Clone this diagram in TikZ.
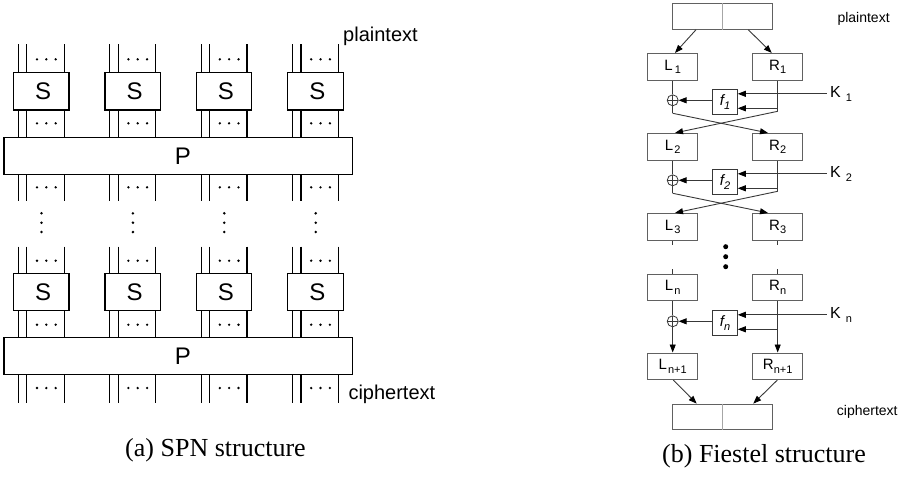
\documentclass[tikz,border=0pt]{standalone}
\usepackage{fontspec}
\setmainfont{Liberation Sans}
\newfontfamily\capfont{Liberation Serif}
\usetikzlibrary{arrows.meta,calc}

\definecolor{fline}{gray}{0.22}
\definecolor{fbord}{gray}{0.38}
\definecolor{fdiv}{gray}{0.65}

% lowered small index used in the Feistel labels
\newcommand\lowidx[1]{\raisebox{-0.45ex}{\fontsize{11}{11}\selectfont #1}}

\tikzset{
  wire/.style={line width=1.1pt, black},
  sbox/.style={draw, line width=1.2pt, fill=white, minimum width=55.4pt,
    minimum height=37.3pt, inner sep=0pt, font=\fontsize{24}{24}\selectfont},
  pbox/.style={draw, line width=1.2pt, fill=white, minimum width=348.3pt,
    minimum height=37pt, inner sep=0pt},
  spnlabel/.style={inner sep=0pt, font=\fontsize{20}{20}\selectfont},
  caption/.style={inner sep=0pt, font=\capfont\fontsize{26}{26}\selectfont},
  halfbox/.style={draw=fbord, line width=0.9pt, minimum width=50pt,
    minimum height=26.7pt, inner sep=0pt, font=\fontsize{15}{15}\selectfont},
  blockbox/.style={draw=fbord, line width=0.9pt, minimum width=100pt,
    minimum height=26pt, inner sep=0pt},
  fbox/.style={draw=fline, line width=0.9pt, minimum width=24.6pt,
    minimum height=25pt, inner sep=0pt, font=\itshape\fontsize{15}{15}\selectfont},
  xorc/.style={draw=fline, line width=0.8pt, circle, minimum size=11pt, inner sep=0pt,
    path picture={\draw[fline, line width=0.7pt]
      (path picture bounding box.north) -- (path picture bounding box.south)
      (path picture bounding box.west) -- (path picture bounding box.east);}},
  fl/.style={draw=fline, line width=0.9pt},
  farr/.style={fl, -{Triangle[length=8pt,width=6pt,color=black]}},
  fsmall/.style={inner sep=0pt, font=\fontsize{14}{14}\selectfont},
  klabel/.style={inner sep=0pt, anchor=west, font=\fontsize{16}{16}\selectfont},
}

\begin{document}
\begin{tikzpicture}[x=1pt, y=-1pt]
\useasboundingbox (0,0) rectangle (902,477);

% ---------------- SPN network ----------------
\foreach \k in {0,1,2,3}{
  \pgfmathsetmacro\bx{13.5+91.4*\k}
  % wires of the upper and lower layers
  \foreach \o in {5,13.3,50.7}{
    \draw[wire] (\bx+\o,44.3) -- (\bx+\o,200.7);
    \draw[wire] (\bx+\o,246.7) -- (\bx+\o,403.3);
  }
  % horizontal ellipses between the wires
  \foreach \y in {59.3,123.3,187.3,260.7,324.7,388}{
    \foreach \d in {23.5,32.8,42.2}{
      \fill (\bx+\d,\y) circle (1.3pt);
    }
  }
  % vertical ellipsis between the two layers
  \foreach \y in {213.3,222.7,232}{
    \fill (\bx+28,\y) circle (1.4pt);
  }
  % S-boxes
  \node[sbox] (su\k) at (\bx+27.7,91.35) {\hspace{4pt}S};
  \node[sbox] (sl\k) at (\bx+27.7,292) {\hspace{4pt}S};
}
\node[pbox] (pu) at (178.15,155.8) {};
\node[font=\fontsize{24}{24}\selectfont, inner sep=0pt] (pul) at (183,155.8) {P};
\node[pbox] (pl) at (178.15,356.35) {};
\node[font=\fontsize{24}{24}\selectfont, inner sep=0pt] (pll) at (183,356.35) {P};

\node[spnlabel, anchor=base west] (spnpt) at (343,41.5) {plaintext};
\node[spnlabel, anchor=base west] (spnct) at (348.3,399.5) {ciphertext};
\node[caption, anchor=base] (capa) at (215.5,456) {(a) SPN structure};

% ---------------- Feistel network ----------------
\node[blockbox] (ptb) at (722.7,16.3) {};
\draw[fdiv, line width=0.8pt] (ptb.north) -- (ptb.south);
\node[fsmall, anchor=base west] (fpt) at (837.3,22) {plaintext};

\node[halfbox] (L1) at (672.7,66.7) {L\hspace{2pt}\lowidx{1}};
\node[halfbox] (R1) at (777.7,66.7) {R\lowidx{1}};
\node[halfbox] (L2) at (672.7,146.7) {L\hspace{1pt}\lowidx{2}};
\node[halfbox] (R2) at (777.7,146.7) {R\lowidx{2}};
\node[halfbox] (L3) at (672.7,226.7) {L\hspace{1pt}\lowidx{3}};
\node[halfbox] (R3) at (777.7,226.7) {R\lowidx{3}};
\node[halfbox] (Ln) at (672.7,287.3) {L\hspace{1pt}\lowidx{n}};
\node[halfbox] (Rn) at (777.7,287.3) {R\lowidx{n}};
\node[halfbox] (Ln1) at (672.7,366.3) {L\hspace{1pt}\lowidx{n+1}};
\node[halfbox] (Rn1) at (777.7,366.3) {R\lowidx{n+1}};

\node[blockbox, minimum height=25.3pt] (ctb) at (722.7,416.7) {};
\draw[fdiv, line width=0.8pt] (ctb.north) -- (ctb.south);
\node[fsmall, anchor=base west] (fct) at (836.7,415) {ciphertext};

% splitting the plaintext block
\draw[farr] ($(ptb.south)+(-26.7,0)$) -- ($(L1.north)+(2.3,0)$);
\draw[farr] ($(ptb.south)+(25.6,0)$) -- ($(R1.north)+(-6,0)$);

% three rounds: 1, 2 and n
\foreach \r/\T/\lab in {1/53.3/1, 2/133.3/2, n/274.3/n}{
  \node[xorc] (x\r) at (672.7,\T+47) {};
  \node[fbox] (f\r) at (725,\T+48.5) {f\lowidx{\lab}};
  \coordinate (k\r) at (826.7,\T+40.5);
  \coordinate (feed\r) at (777.7,\T+55);
  \draw[fl] (L\r.south) -- (x\r.north);
  \draw[farr] (f\r.west |- x\r.center) -- (x\r.east);
  \draw[farr] (k\r) -- (f\r.east |- k\r);
  \draw[farr] (feed\r) -- (f\r.east |- feed\r);
  \node[klabel] (kl\r) at (830,\T+40.5) {K\hspace{5pt}\lowidx{\lab}};
}

% round 1 crossing
\coordinate (rb1) at (777.7,111.3);
\coordinate (xb1) at (672.7,113.3);
\draw[fl] (R1.south) -- (rb1);
\draw[fl] (x1.south) -- (xb1);
\draw[farr] (xb1) -- ($(R2.north)+(-9.7,0)$);
\draw[farr] (rb1) -- ($(L2.north)+(2.3,0)$);

% round 2 crossing
\coordinate (rb2) at (777.7,191.3);
\coordinate (xb2) at (672.7,193.3);
\draw[fl] (R2.south) -- (rb2);
\draw[fl] (x2.south) -- (xb2);
\draw[farr] (xb2) -- ($(R3.north)+(-9.7,0)$);
\draw[farr] (rb2) -- ($(L3.north)+(2.3,0)$);

% omitted rounds
\draw[fl] (L3.south) -- ++(0,4);
\draw[fl] (R3.south) -- ++(0,4);
\draw[fl] (Ln.north) -- ++(0,-5);
\draw[fl] (Rn.north) -- ++(0,-5);
\foreach \y in {246.7,256.7,266.7}{
  \fill[black] (725.7,\y) circle (2.5pt);
}

% last round: no swap
\draw[farr] (xn.south) -- (Ln1.north);
\draw[farr] (Rn.south) -- (Rn1.north);

% joining into the ciphertext block
\draw[farr] ($(Ln1.south)+(0.6,0)$) -- ($(ctb.north)+(-26,0)$);
\draw[farr] ($(Rn1.south)+(-0.4,0)$) -- ($(ctb.north)+(30.6,0)$);

\node[caption, anchor=base] (capb) at (764,462) {(b) Fiestel structure};
\end{tikzpicture}
\end{document}
